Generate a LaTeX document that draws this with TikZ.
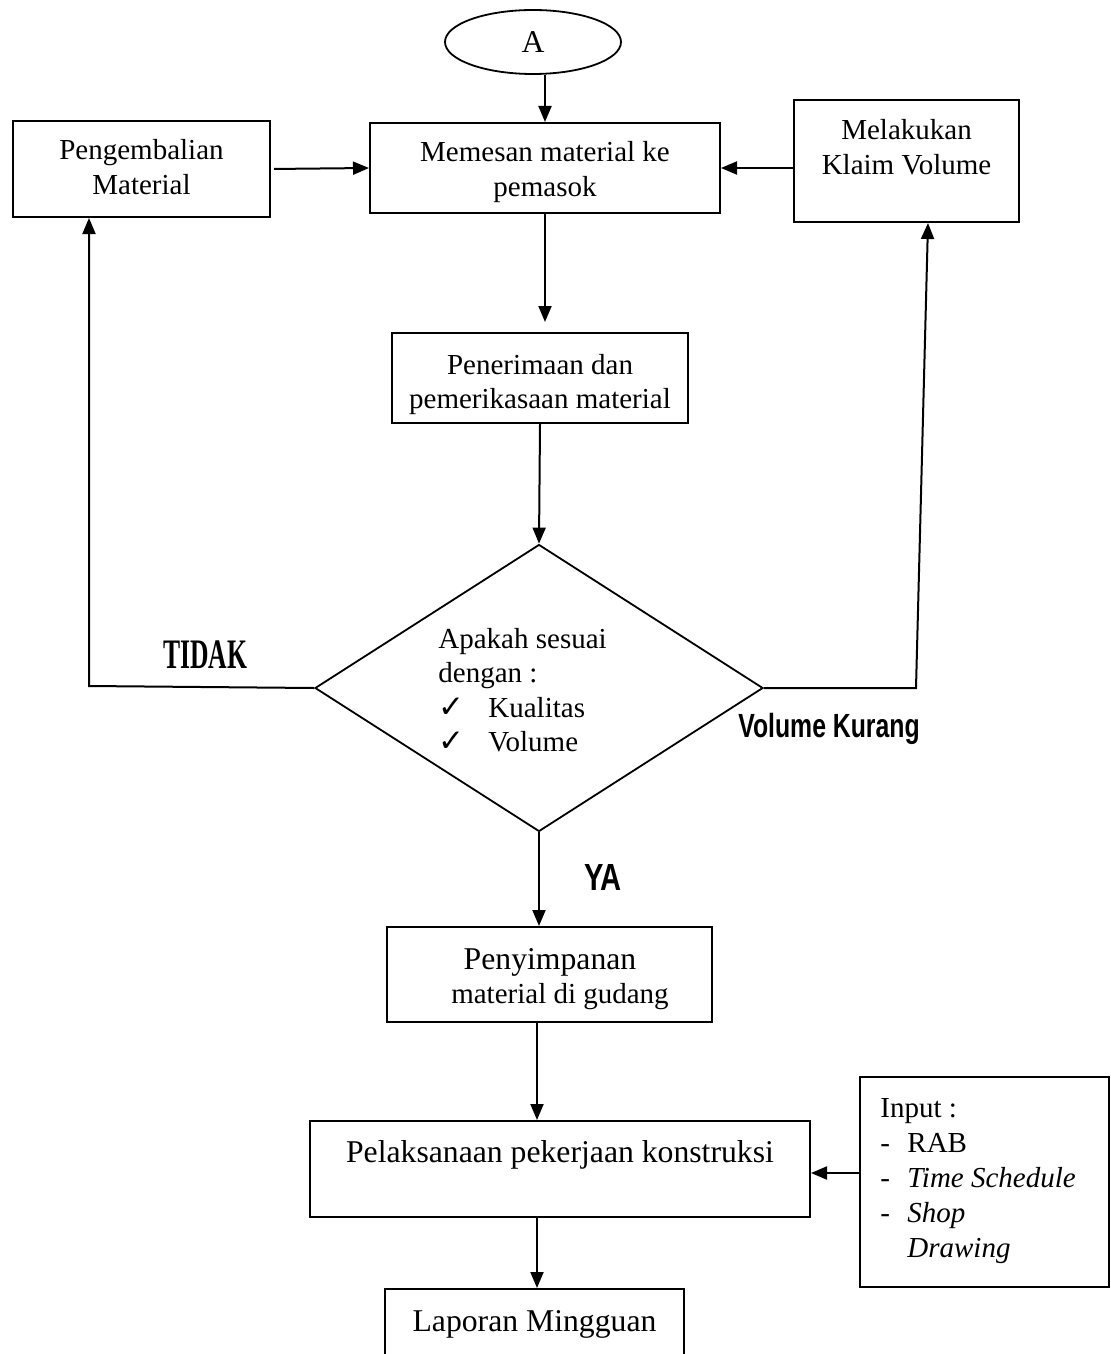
\documentclass[tikz,border=0pt]{standalone}
\usepackage{graphicx}
\usepackage{fontspec}
\setmainfont{Liberation Serif}
\newfontfamily\labelsans{Liberation Sans}
\newfontfamily\ticksym{DejaVu Sans}
\usetikzlibrary{shapes.geometric,arrows.meta,calc}

% check-marked list item inside the decision
\newcommand\checkitem{\makebox[25pt][l]{\ticksym\fontsize{15.5pt}{15pt}\selectfont ✓}}
% larger type used for a few steps
\newcommand\bigtype{\fontsize{15.85pt}{17.2pt}\selectfont}

\tikzset{
  basefont/.style={font=\fontsize{14.5pt}{17.2pt}\selectfont},
  box/.style={draw, line width=1pt, rectangle, inner sep=0pt},
  terminal/.style={draw, line width=0.9pt, ellipse, inner sep=0pt, font=\bigtype},
  decision/.style={draw, line width=0.9pt, diamond, inner sep=0pt},
  txt/.style={inner sep=0pt, align=center, basefont},
  arr/.style={line width=1pt, -{Triangle[length=8pt,width=6.5pt]}},
}

\begin{document}
\begin{tikzpicture}[x=0.5pt,y=-0.5pt]
\useasboundingbox (0,0) rectangle (1110,1354);

% process steps: frames
\node[terminal, minimum width=88pt, minimum height=32pt] (start) at (533,42) {A};
\node[box, minimum width=175pt, minimum height=45pt] (order) at (545,168) {};
\node[box, minimum width=128.5pt, minimum height=48pt] (retur) at (141.5,169) {};
\node[box, minimum width=112.5pt, minimum height=61pt] (claim) at (906.5,161) {};
\node[box, minimum width=148pt, minimum height=45pt] (receive) at (540,378) {};
\node[decision, minimum width=224pt, minimum height=143.5pt] (dec) at (539,688) {};
\node[box, minimum width=162.5pt, minimum height=47.5pt] (store) at (549.5,974.5) {};
\node[box, minimum width=250pt, minimum height=48pt] (build) at (560,1169) {};
\node[box, minimum width=124.5pt, minimum height=105pt] (input) at (984.5,1182) {};
\node[box, minimum width=149.5pt, minimum height=35pt] (report) at (534.5,1324) {};

% process steps: texts
\node[txt] (ordertxt) at (545,172) {Memesan material ke\\pemasok};
\node[txt] (returtxt) at (141.5,167) {Pengembalian\\Material};
\node[txt] (claimtxt) at (906.5,147) {Melakukan\\Klaim Volume};
\node[txt] (receivetxt) at (540,384.5) {Penerimaan dan\\pemerikasaan material};
\node[txt, align=left, anchor=west] (dectxt) at (438,690)
  {Apakah sesuai\\dengan :\\\checkitem Kualitas\\\checkitem Volume};
\node[txt] (storetxt) at (550,979) {{\bigtype Penyimpanan}\\\hspace*{10pt}material di gudang};
\node[txt, font=\bigtype] (buildtxt) at (560,1155) {Pelaksanaan pekerjaan konstruksi};
\node[txt, align=left, anchor=west, font=\fontsize{14.5pt}{17.6pt}\selectfont] (inputtxt) at (880,1181)
  {Input :\\
   \makebox[13.5pt][l]{-}RAB\\
   \makebox[13.5pt][l]{-}\textit{Time Schedule}\\
   \makebox[13.5pt][l]{-}\textit{Shop}\\
   \makebox[13.5pt][l]{}\textit{Drawing}};
\node[txt, font=\bigtype] (reporttxt) at (534.5,1324) {Laporan Mingguan};

% branch labels
\node[inner sep=0pt, anchor=base] (no) at (205,668)
  {\scalebox{0.61}[1]{\fontsize{21pt}{21pt}\selectfont\bfseries TIDAK}};
\node[inner sep=0pt, anchor=base] (short) at (829,737)
  {\scalebox{0.74}[1]{\labelsans\bfseries\fontsize{16.75pt}{17pt}\selectfont Volume Kurang}};
\node[inner sep=0pt, anchor=base] (yes) at (603,890)
  {\scalebox{0.77}[1]{\labelsans\bfseries\fontsize{18.9pt}{19pt}\selectfont YA}};

% bend points of the return lines
\coordinate (tl) at (89,686);
\coordinate (rb) at (916,688);
\coordinate (rt) at (928,0);

% main flow
\draw[arr] (start.south -| order.north) -- (order.north);
\draw[arr, shorten >=5pt] (order.south) -- (receive.north -| order.south);
\draw[arr] (receive.south) -- (dec.north);
\draw[arr] (dec.south) -- (store.north -| dec.south);
\draw[arr] (store.south -| 537,0) -- (build.north -| 537,0);
\draw[arr] (build.south -| 537,0) -- (report.north -| 537,0);
\draw[arr] (input.west |- 0,1173) -- (build.east |- 0,1173);

% side flows into the order step
\draw[arr, shorten <=1.5pt] (retur.east) -- (order.west);
\draw[arr] (claim.west |- order.east) -- (order.east);

% rejection and shortage loops
\draw[arr] (dec.west) -- (tl) -- (retur.south -| tl);
\draw[arr] (dec.east) -- (rb) -- (claim.south -| rt);
\end{tikzpicture}
\end{document}
